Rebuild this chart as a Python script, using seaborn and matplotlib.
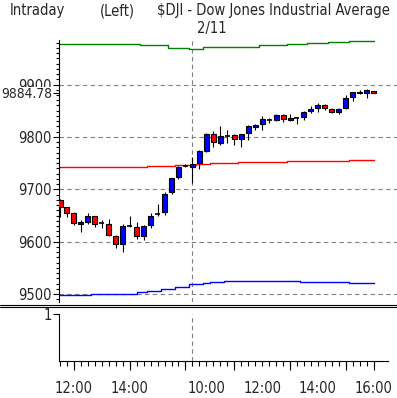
import matplotlib
matplotlib.use("Agg")
import matplotlib.pyplot as plt
import seaborn as sns
import numpy as np
from matplotlib import font_manager
from matplotlib.lines import Line2D
from matplotlib.ticker import MultipleLocator

# 15-minute candles: 2/10 11:30-16:00 then 2/11 9:30-16:00
opens = [9680, 9666, 9654, 9633, 9638, 9649, 9635, 9633, 9611, 9596,
         9629, 9629, 9610, 9631, 9652, 9656, 9694, 9723, 9744,
         9742, 9751, 9774, 9805, 9789, 9802, 9803, 9796, 9807, 9819,
         9824, 9833, 9832, 9841, 9833, 9837, 9838, 9850, 9856, 9861,
         9854, 9848, 9856, 9876, 9883, 9883, 9887]
highs = [9681, 9667, 9656, 9642, 9654, 9650, 9642, 9643, 9612, 9633,
         9649, 9638, 9631, 9654, 9672, 9694, 9722, 9744, 9748,
         9762, 9775, 9807, 9811, 9821, 9813, 9805, 9806, 9822, 9824,
         9840, 9837, 9843, 9843, 9843, 9837.5, 9850, 9859, 9864, 9862,
         9855, 9855, 9880, 9886, 9890, 9892, 9888]
lows = [9648, 9648, 9632, 9619, 9633, 9629, 9626, 9611, 9588, 9581,
        9628, 9605, 9603, 9626, 9650, 9651, 9691, 9719, 9742,
        9713, 9739, 9772, 9781, 9785, 9788, 9785, 9781, 9794, 9814,
        9814, 9827, 9831, 9828, 9830, 9824, 9832, 9846, 9848, 9851,
        9846, 9843, 9854, 9869, 9881, 9874, 9883]
closes = [9667, 9655, 9635, 9637, 9649, 9634, 9635, 9613, 9596, 9630,
          9630, 9610, 9630, 9650, 9653, 9692, 9721, 9742, 9745,
          9748, 9773, 9805, 9790, 9801, 9803, 9797, 9805, 9821, 9822,
          9834, 9833, 9841, 9834, 9837, 9837, 9847, 9854, 9861, 9856,
          9848, 9854, 9875, 9885, 9885, 9889, 9884.78]

# step bands (slot where each level starts, level)
upper_x = [-0.5, 5.5, 11.5, 15.5, 18.5, 20.5, 25.5, 28.5, 32.5, 35.5, 38.5, 41.5, 43.5, 45]
upper_y = [9978.1, 9977.3, 9974.9, 9970.5, 9968.6, 9971.0, 9972.4, 9974.9, 9976.8, 9978.7, 9980.6, 9982.5, 9983.8]
mid_x = [-0.5, 12.5, 16.5, 19.5, 21.5, 25.5, 32.5, 41.5, 45]
mid_y = [9742.0, 9744.0, 9746.0, 9747.5, 9749.5, 9751.4, 9753.3, 9755.8]
lower_x = [-0.5, 4.5, 11.0, 12.5, 14.5, 16.5, 18.5, 20.5, 21.5, 23.5, 34.5, 41.5, 45]
lower_y = [9498.7, 9500.6, 9503.8, 9506.3, 9509.5, 9514.5, 9518.5, 9521.5, 9523.4, 9525.3, 9523.4, 9521.0]

y_ticks = [9500, 9600, 9700, 9800, 9900]
last_price = 9884.78
day_break = 19
x_label_pos = [2, 10, 21, 29, 37, 45]
x_labels = ["12:00", "14:00", "10:00", "12:00", "14:00", "16:00"]
x_long_ticks = [2, 10, 18, 25, 33, 41, 45]

sns.set_theme(style="white")
fonts = font_manager.fontManager.ttflist
names = {f.name for f in fonts}
if "Liberation Sans Narrow" in names:
    plt.rcParams["font.family"] = ["Liberation Sans Narrow", "DejaVu Sans"]
    fs = 12
elif any(f.name == "DejaVu Sans" and f.stretch == "condensed" for f in fonts):
    plt.rcParams["font.family"] = ["DejaVu Sans"]
    plt.rcParams["font.stretch"] = "condensed"
    fs = 10.5
else:
    plt.rcParams["font.family"] = ["DejaVu Sans"]
    fs = 9

W, H = 397, 398
fig = plt.figure(figsize=(W / 100, H / 100), dpi=100)
fig.patch.set_facecolor("white")

px = 6.97
x0 = 58.5
ax = fig.add_axes([x0 / W, 1 - 302 / H, (W - x0) / W, 262 / H])
ax2 = fig.add_axes([x0 / W, 1 - 361 / H, (388 - x0) / W, 47 / H])
left_slot = (x0 - 60) / px
ax.set_xlim(left_slot, (W - 60) / px)
ax2.set_xlim(left_slot, (388 - 60) / px)
ax.set_ylim(9485, 9985)
ax2.set_ylim(0, 1)

grey = "#808080"
dash = (0, (4, 3))
for v in y_ticks:
    ax.axhline(v, color=grey, ls=dash, lw=0.8, zorder=1)
ax.axvline(day_break, color=grey, ls=dash, lw=0.8, zorder=1)
ax2.axvline(day_break, color=grey, ls=dash, lw=0.8, zorder=1)

# bands
sns.lineplot(x=upper_x, y=upper_y + [upper_y[-1]], drawstyle="steps-post",
             color="#008000", lw=1, ax=ax, legend=False, zorder=2)
sns.lineplot(x=mid_x, y=mid_y + [mid_y[-1]], drawstyle="steps-post",
             color="#ff0000", lw=1, ax=ax, legend=False, zorder=2)
sns.lineplot(x=lower_x, y=lower_y + [lower_y[-1]], drawstyle="steps-post",
             color="#0000ff", lw=1, ax=ax, legend=False, zorder=2)

# candles
xs = np.arange(len(opens))
o = np.array(opens); c = np.array(closes)
ax.vlines(xs, lows, highs, color="black", lw=0.8, zorder=3)
bw = 0.72
for i in range(len(xs)):
    if abs(c[i] - o[i]) < 1.5:
        ax.hlines((o[i] + c[i]) / 2, i - bw / 2, i + bw / 2, color="black", lw=1.2, zorder=4)
    else:
        col = "#0000ff" if c[i] > o[i] else "#ff0000"
        ax.bar(i, abs(c[i] - o[i]), bottom=min(o[i], c[i]), width=bw,
               color=col, edgecolor="black", lw=0.8, zorder=4)

# axes styling
for a in (ax, ax2):
    for s in a.spines.values():
        s.set_visible(False)
    a.spines["left"].set_visible(True)
    a.spines["left"].set_color("black")
    a.spines["left"].set_linewidth(0.8)
    a.set_facecolor("white")
    a.grid(False)
ax2.spines["bottom"].set_visible(True)
ax2.spines["bottom"].set_color("black")
ax2.spines["bottom"].set_linewidth(0.8)

ax.set_xticks([])
ax.set_yticks(y_ticks, labels=[str(v) for v in y_ticks])
ax.yaxis.set_minor_locator(MultipleLocator(10))
ax.tick_params(axis="y", which="major", direction="out", length=4.3, width=0.8,
               color="black", labelsize=fs, pad=0.5, left=True)
ax.tick_params(axis="y", which="minor", direction="out", length=2.2, width=0.8,
               color="black", left=True)

# last price label, drawn over the 9900 label
axt = ax.twinx()
axt.set_ylim(ax.get_ylim())
axt.yaxis.tick_left()
for s in axt.spines.values():
    s.set_visible(False)
axt.set_yticks([last_price], labels=["9884.78"])
axt.tick_params(axis="y", direction="out", length=4.3, width=0.8, color="black",
                labelsize=fs - 0.6, pad=0.3, left=True, right=False)
for lbl in axt.get_yticklabels():
    lbl.set_bbox(dict(facecolor="white", edgecolor="none", pad=0))
axt.grid(False)

ax2.set_yticks([1], labels=["1"])
ax2.tick_params(axis="y", direction="out", length=4.3, width=0.8, color="black",
                labelsize=fs, pad=0.5, left=True)
ax2.xaxis.remove_overlapping_locs = False
ax2.set_xticks(x_long_ticks, labels=[""] * len(x_long_ticks))
minor_labels = [x_labels[x_label_pos.index(i)] if i in x_label_pos else "" for i in xs]
ax2.set_xticks(xs, labels=minor_labels, minor=True)
ax2.tick_params(axis="x", which="major", direction="out", length=6.5, width=0.8,
                color="black", bottom=True)
ax2.tick_params(axis="x", which="minor", direction="out", length=3.6, width=0.8,
                color="black", labelsize=fs, pad=10.5, bottom=True)

# header texts
fig.text(10 / W, 1 - 11 / H, "Intraday", fontsize=fs, va="center", ha="left")
fig.text(100 / W, 1 - 11 / H, "(Left)", fontsize=fs, va="center", ha="left")
fig.text(157 / W, 1 - 11 / H, "\\$DJI - Dow Jones Industrial Average", fontsize=fs,
         va="center", ha="left")
fig.text(212 / W, 1 - 28 / H, "2/11", fontsize=fs, va="center", ha="center")

# panel separator and bottom edge
for yy in (304.5, 306.5):
    fig.add_artist(Line2D([0, 1], [1 - yy / H] * 2, transform=fig.transFigure,
                          color="black", lw=0.8))
fig.add_artist(Line2D([0, 1], [1 - 397.5 / H] * 2, transform=fig.transFigure,
                      color="#c0c0c0", lw=0.8, ls=":"))

fig.savefig("out.png", dpi=100, facecolor="white")
